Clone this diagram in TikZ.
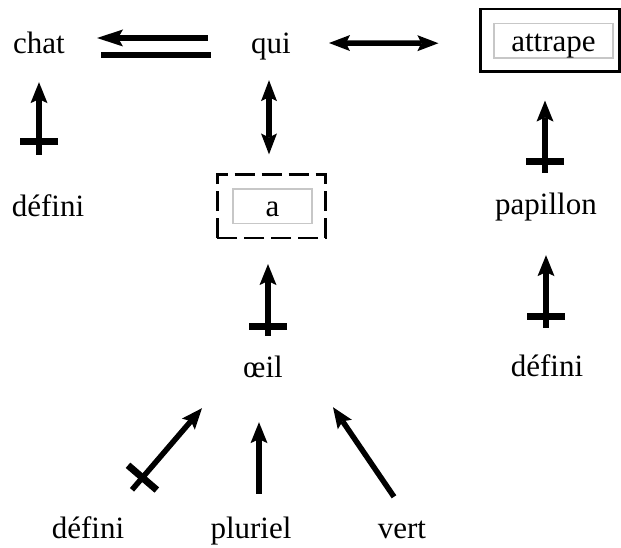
\documentclass[tikz,border=0pt]{standalone}
\usepackage{fontspec}
\setmainfont{Liberation Serif}
\usetikzlibrary{calc}
\usetikzlibrary{arrows.meta}
\usetikzlibrary{decorations.markings}
\newcommand{\sizeword}{31}
\newcommand{\halfbar}{19pt}
\tikzset{
    word/.style={anchor=base, inner sep=0pt, text height=21pt, text depth=7pt, font=\fontsize{\sizeword}{36}\selectfont},
    inbox/.style={word, draw=black!22, line width=1.2pt, text height=28pt, text depth=6.5pt},
    solidframe/.style={draw, line width=2.5pt},
    dashframe/.style={draw, line width=2.5pt, dash pattern=on 20pt off 7pt},
    dep/.style={line width=5.5pt, -{Stealth[length=21pt, width=17pt, inset=4pt, line width=0pt]}},
    twohead/.style={line width=5.5pt, {Stealth[length=21pt, width=16pt, inset=4pt, line width=0pt]}-{Stealth[length=21pt, width=16pt, inset=4pt, line width=0pt]}},
    negbar/.style={postaction={decorate, decoration={markings,
        mark=at position #1 with {\draw[-, line width=7pt] (0,-\halfbar) -- (0,\halfbar);}}}}
}
\begin{document}
\begin{tikzpicture}[x=1pt, y=1pt]
    \useasboundingbox (0,0) rectangle (621,548);

    \node[word] (chat) at (39,494) {chat};
    \node[word] (qui) at (271,494) {qui};
    \node[inbox, minimum width=119pt] (attrape) at (553.5,496.5) {attrape};
    \node[word] (defL) at (48,331) {défini};
    \node[inbox, minimum width=79pt] (a) at (272.5,331) {a};
    \node[word] (papillon) at (546,333) {papillon};
    \node[word] (oeil) at (263,170) {œil};
    \node[word] (defR) at (547,171) {défini};
    \node[word] (defB) at (88,9) {défini};
    \node[word] (pluriel) at (251,9) {pluriel};
    \node[word] (vert) at (402,9) {vert};

    \draw[solidframe] ($(attrape.south west)+(-13,-13)$) rectangle ($(attrape.north east)+(6,14)$);
    \draw[dashframe] ($(a.south west)+(-15,-14)$) rectangle ($(a.north east)+(13,14)$);

    \draw[dep, line width=6pt, -{Stealth[length=26pt, width=17pt, inset=5pt, line width=0pt]}]
        ($(qui.west)+(-43,9)$) -- ($(chat.east)+(32,9)$);
    \draw[line width=6pt] ($(chat.east)+(36,-8)$) -- ($(qui.west)+(-40,-8)$);
    \draw[twohead] ($(qui.east)+(38,4)$) -- ($(attrape.west)+(-55,-2.5)$);

    \draw[dep, negbar=13pt] ($(chat.south |- defL.north)+(0,41)$) -- ($(chat.south)+(0,-21)$);
    \draw[twohead] ($(qui.south |- a.north)+(-2,34)$) -- ($(qui.south)+(-2,-19)$);
    \draw[dep, negbar=11pt] ($(papillon.north)+(-1,21)$) -- ($(papillon.north |- attrape.south)+(-1,-42)$);
    \draw[dep, negbar=9pt] ($(oeil.north -| qui.south)+(-3,21)$) -- ($(a.south -| qui.south)+(-3,-40)$);
    \draw[dep, negbar=11pt] ($(defR.north)+(-1,28)$) -- ($(papillon.south)+(0,-33)$);

    \draw[dep, negbar=16pt] ($(defB.north)+(44,28)$) -- ($(oeil.south)+(-61,-23)$);
    \draw[dep] ($(pluriel.north)+(8,24)$) -- ($(oeil.south)+(-4,-37)$);
    \draw[dep] ($(vert.north)+(-8,21)$) -- ($(oeil.south)+(70,-22)$);
\end{tikzpicture}
\end{document}
